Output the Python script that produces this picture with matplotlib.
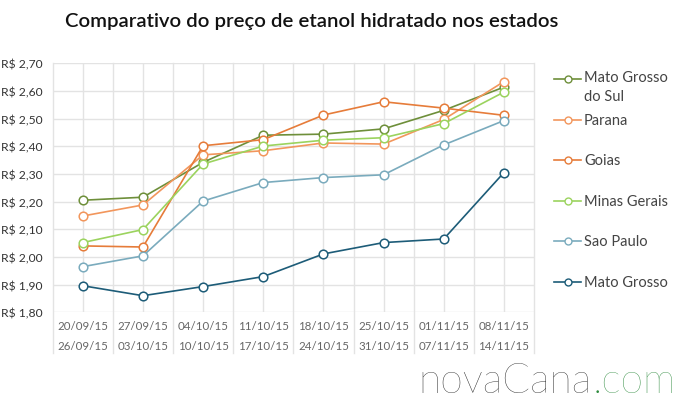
import matplotlib
matplotlib.use("Agg")
import matplotlib.pyplot as plt
from matplotlib.lines import Line2D
from matplotlib.transforms import blended_transform_factory

# ---- data ----
week_start = ["20/09/15", "27/09/15", "04/10/15", "11/10/15", "18/10/15", "25/10/15", "01/11/15", "08/11/15"]
week_end = ["26/09/15", "03/10/15", "10/10/15", "17/10/15", "24/10/15", "31/10/15", "07/11/15", "14/11/15"]

mato_grosso_do_sul = [2.205, 2.216, 2.342, 2.440, 2.444, 2.463, 2.530, 2.614]
parana = [2.148, 2.188, 2.369, 2.384, 2.412, 2.408, 2.497, 2.634]
goias = [2.040, 2.036, 2.402, 2.424, 2.513, 2.561, 2.538, 2.512]
minas_gerais = [2.052, 2.099, 2.336, 2.401, 2.422, 2.431, 2.482, 2.596]
sao_paulo = [1.965, 2.004, 2.202, 2.269, 2.287, 2.297, 2.405, 2.493]
mato_grosso = [1.896, 1.860, 1.893, 1.929, 2.011, 2.052, 2.065, 2.305]

series_names = ["Mato Grosso\ndo Sul", "Parana", "Goias", "Minas Gerais", "Sao Paulo", "Mato Grosso"]
series_values = [mato_grosso_do_sul, parana, goias, minas_gerais, sao_paulo, mato_grosso]
series_colors = ["#6e8f3a", "#f2965c", "#e67c3a", "#9bd35e", "#7aabbd", "#1d5c78"]

y_ticks = [1.80, 1.90, 2.00, 2.10, 2.20, 2.30, 2.40, 2.50, 2.60, 2.70]

FONT = ["Lato", "DejaVu Sans"]
plt.rcParams["font.family"] = FONT

fig = plt.figure(figsize=(6.84, 4.06), dpi=100)
W, H = 684, 406
left, right, top, bottom = 52.7, 534.0, 64.3, 313.3
ax = fig.add_axes([left / W, 1 - bottom / H, (right - left) / W, (bottom - top) / H])

n = len(week_start)
xs = list(range(n))
ax.set_xlim(-0.5, n - 0.5)
ax.set_ylim(y_ticks[0], y_ticks[-1])

grid_c = "#e3e3e3"
for yv in y_ticks:
    ax.axhline(yv, color=grid_c, lw=1.0, zorder=0)
for i in xs:
    ax.axvline(i, color=grid_c, lw=1.0, zorder=0)
trans = blended_transform_factory(ax.transData, ax.transAxes)
for b in [i - 0.5 for i in xs] + [n - 0.5]:
    ax.plot([b, b], [-0.165, 1.0], color=grid_c, lw=1.0, transform=trans, clip_on=False, zorder=0)

for s in ax.spines.values():
    s.set_visible(False)

for vals, col in zip(series_values, series_colors):
    ax.plot(xs, vals, color=col, lw=1.2, marker="o", ms=6.2, mfc="white", mec=col, mew=1.1, zorder=3)

ax.set_yticks(y_ticks)
ax.set_yticklabels(["R$ " + f"{v:.2f}".replace(".", ",") for v in y_ticks], fontsize=8.7, color="#333333")
ax.tick_params(axis="y", length=0, pad=7)
ax.set_xticks([])

for i in xs:
    ax.text(i, -0.052, week_start[i], transform=trans, ha="center", va="center", fontsize=8.3, color="#666666")
    ax.text(i, -0.132, week_end[i], transform=trans, ha="center", va="center", fontsize=8.3, color="#666666")

# title
fig.text(65 / W, 1 - 22 / H, "Comparativo do preço de etanol hidratado nos estados",
         fontsize=14.7, fontweight="semibold", color="#111111", ha="left", va="center")

# legend (manual)
legend_y = [80, 121, 161, 202, 242, 283]
for name, col, yy in zip(series_names, series_colors, legend_y):
    yf = 1 - yy / H
    fig.add_artist(Line2D([554 / W, 581 / W], [yf, yf], color=col, lw=1.2, transform=fig.transFigure))
    fig.add_artist(Line2D([567.5 / W], [yf], color=col, marker="o", ms=5, mfc="white", mec=col, mew=1.0,
                          transform=fig.transFigure))
    if "\n" in name:
        fig.text(584 / W, 1 - (yy - 9) / H, name, fontsize=10.5, color="#444444", ha="left", va="top",
                 linespacing=1.45)
    else:
        fig.text(584 / W, yf, name, fontsize=10.5, color="#444444", ha="left", va="center")

# logo
logo = fig.text(418 / W, 1 - 393 / H, "novaCana", fontsize=29.5, fontweight="light", color="#222222",
                ha="left", va="baseline")
fig.canvas.draw()
bb = logo.get_window_extent(renderer=fig.canvas.get_renderer())
fig.text(bb.x1 / W + 1 / W, 1 - 393 / H, ".com", fontsize=29.5, fontweight="light", color="#2e8b3e",
         ha="left", va="baseline")

fig.savefig("out.png", dpi=100, facecolor="white")
